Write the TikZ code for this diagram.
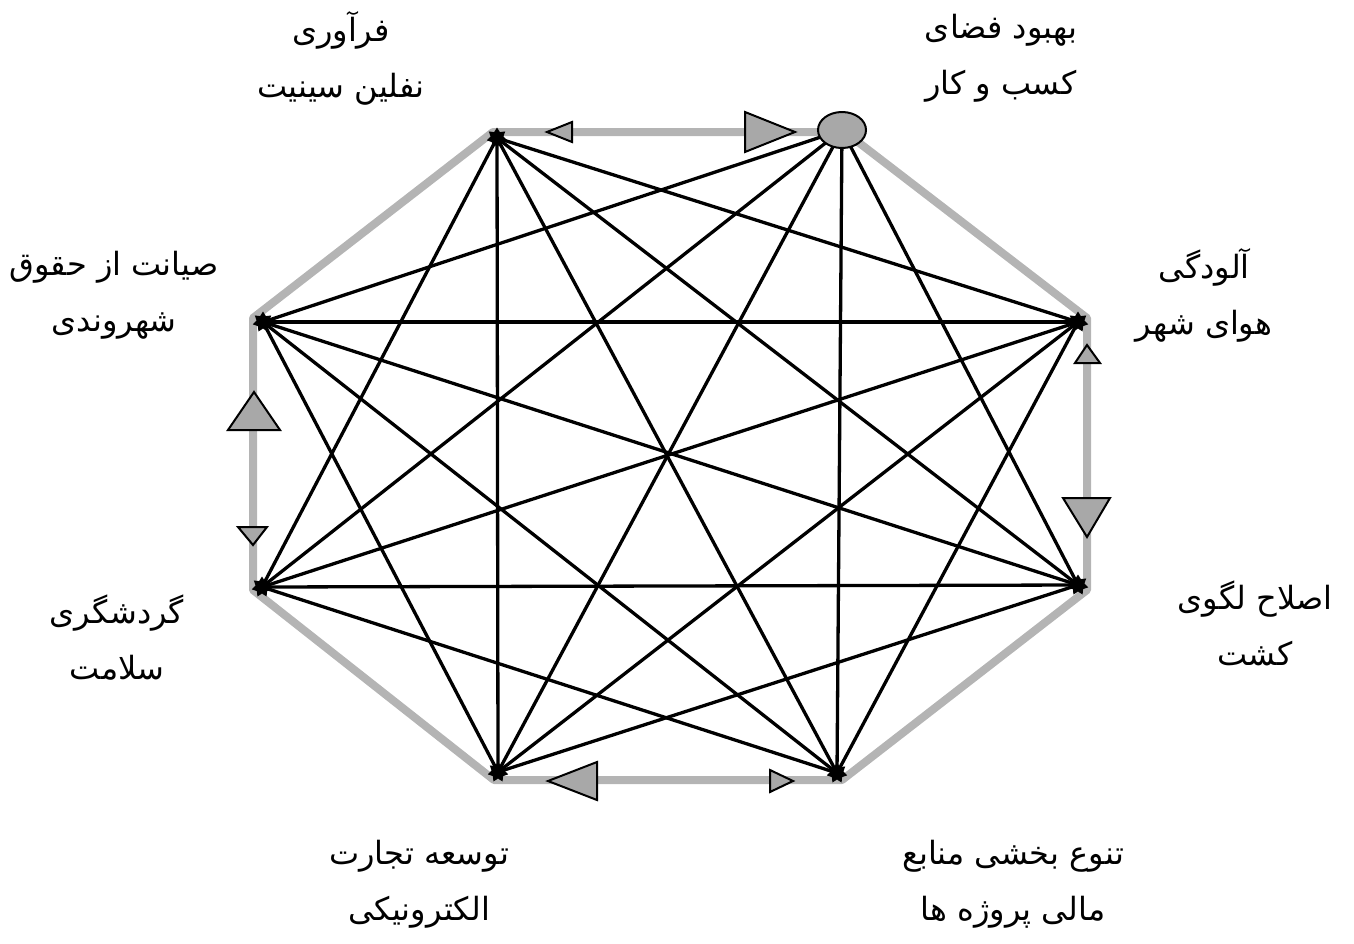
\documentclass[tikz,border=0pt]{standalone}
\usepackage{fontspec}
\newfontfamily\arabicfont[Script=Arabic]{DejaVu Sans}
\TeXXeTstate=1
\usetikzlibrary{backgrounds,shapes.geometric}
\definecolor{edgegrey}{HTML}{B4B4B4}
\definecolor{trigrey}{HTML}{A8A8A8}
\newcommand{\fa}[1]{{\arabicfont\beginR #1\endR}}
\tikzset{
  blob/.style={star,star points=7,star point ratio=1.6,fill=black,inner sep=0pt,minimum size=21pt},
  hub/.style={ellipse,draw=black,line width=2pt,fill=trigrey,minimum width=48pt,minimum height=36pt,inner sep=0pt},
  link/.style={draw=black,line width=3.3pt},
  rim/.style={draw=edgegrey,line width=8pt,line join=round},
  tri/.style={fill=trigrey,draw=black,line width=2pt,line join=miter},
  lbl/.style={align=center,font=\fontsize{32}{56}\selectfont,inner sep=0pt}
}
\begin{document}
\begin{tikzpicture}[x=1pt,y=-1pt]
\useasboundingbox (0,0) rectangle (1354,943);
% nodes
\node[blob] (A) at (497,138) {};
\node[hub]  (B) at (842,130) {};
\node[blob] (C) at (1078,322) {};
\node[blob] (D) at (1078,585) {};
\node[blob] (E) at (837,773) {};
\node[blob] (F) at (498,772) {};
\node[blob] (G) at (262,587) {};
\node[blob] (H) at (263,322) {};
\begin{scope}[on background layer]
% grey rim
\draw[rim] ([shift={(-4,-6)}]A.center) -- ([shift={(3,2)}]B.center)
  -- ([shift={(9,-4)}]C.center) -- ([shift={(9,5)}]D.center)
  -- ([shift={(5,7)}]E.center) -- ([shift={(-4,8)}]F.center)
  -- ([shift={(-9,3)}]G.center) -- ([shift={(-10,-4)}]H.center) -- cycle;
% black links (all non-adjacent pairs)
\foreach \s/\t in {A/C,A/D,A/E,A/F,A/G,
                   B/D,B/E,B/F,B/G,B/H,
                   C/E,C/F,C/G,C/H,
                   D/F,D/G,D/H,
                   E/G,E/H,
                   F/H}
  \draw[link] (\s.center) -- (\t.center);
\end{scope}
% triangles on the rim
\path[tri] (547,132) -- (572,122) -- (572,142) -- cycle;
\path[tri] (795,132) -- (745,112) -- (745,152) -- cycle;
\path[tri] (1087,345) -- (1075,363) -- (1100,363) -- cycle;
\path[tri] (1087,537) -- (1063,498) -- (1110,498) -- cycle;
\path[tri] (548,781) -- (597,762) -- (597,800) -- cycle;
\path[tri] (793,781) -- (770,770) -- (770,792) -- cycle;
\path[tri] (254,392) -- (228,430) -- (280,430) -- cycle;
\path[tri] (253,545) -- (238,527) -- (267,527) -- cycle;
% labels
\node[lbl] (lA) at (341,58) {\fa{فرآوری}\\\fa{نفلین سینیت}};
\node[lbl] (lB) at (1001,58) {\fa{بهبود فضای}\\\fa{کسب و کار}};
\node[lbl] (lC) at (1204,295) {\fa{آلودگی}\\\fa{هوای شهر}};
\node[lbl] (lD) at (1255,623) {\fa{اصلاح لگوی}\\\fa{کشت}};
\node[lbl] (lE) at (1013,884) {\fa{تنوع بخشی منابع}\\\fa{مالی پروژه ها}};
\node[lbl] (lF) at (419,884) {\fa{توسعه تجارت}\\\fa{الکترونیکی}};
\node[lbl] (lG) at (117,638) {\fa{گردشگری}\\\fa{سلامت}};
\node[lbl] (lH) at (114,295) {\fa{صیانت از حقوق}\\\fa{شهروندی}};
\end{tikzpicture}
\end{document}
